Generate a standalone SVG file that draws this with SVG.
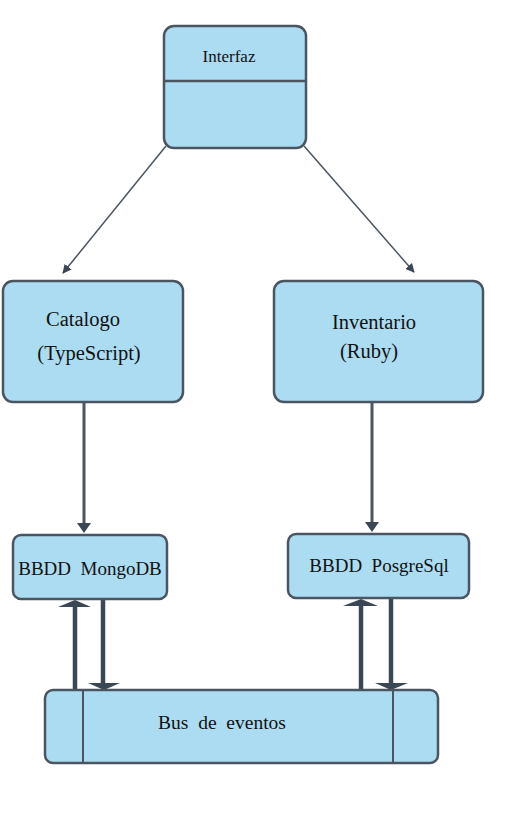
<svg xmlns="http://www.w3.org/2000/svg" width="517" height="835" viewBox="0 0 517 835">
<style>
.box{fill:#acdcf2;stroke:#4a5561;stroke-width:2.5}
.t{font-family:"Liberation Serif","DejaVu Serif",serif;fill:#111;text-anchor:middle;white-space:pre}
.thin{stroke:#4a5561;stroke-width:1.5;fill:none}
.mid{stroke:#4a5561;stroke-width:3;fill:none}
.thick{stroke:#3c4756;stroke-width:4.5;fill:none}
.head{fill:#3c4756}
</style>
<defs>
<marker id="a" viewBox="0 0 10 10" refX="9" refY="5" markerWidth="9" markerHeight="9" markerUnits="userSpaceOnUse" orient="auto">
<path d="M0,0 L10,5 L0,10 z" fill="#3c4756"/>
</marker>
</defs>
<rect width="517" height="835" fill="#fff"/>
<g id="connectors">
<line class="thin" x1="166" y1="146" x2="63" y2="273" marker-end="url(#a)"/>
<line class="thin" x1="304" y1="146" x2="414" y2="272" marker-end="url(#a)"/>
<line class="mid" x1="84" y1="402" x2="84" y2="524"/>
<path class="head" d="M77,523 L91,523 L84,533 z"/>
<line class="mid" x1="372" y1="402" x2="372" y2="523"/>
<path class="head" d="M365,522 L379,522 L372,532 z"/>
<line class="thick" x1="75" y1="689" x2="75" y2="605"/>
<path class="head" d="M58,607 L75,600 L91,607 z"/>
<line class="thick" x1="103" y1="599" x2="103" y2="684"/>
<path class="head" d="M88,683 L120,683 L104,690 z"/>
<line class="thick" x1="361" y1="689" x2="361" y2="604"/>
<path class="head" d="M343,606 L361,599 L378,606 z"/>
<line class="thick" x1="391" y1="598" x2="391" y2="684"/>
<path class="head" d="M375,683 L408,683 L391,690 z"/>
</g>
<g id="interfaz">
<rect class="box" x="164" y="26" width="142" height="122" rx="10"/>
<line x1="164" y1="81" x2="306" y2="81" stroke="#4a5561" stroke-width="2.5"/>
<text class="t" x="229" y="62" font-size="17">Interfaz</text>
</g>
<g id="catalogo">
<rect class="box" x="3" y="281" width="180" height="121" rx="10"/>
<text class="t" x="83" y="326" font-size="20.5">Catalogo</text>
<text class="t" x="89" y="360" font-size="20.5">(TypeScript)</text>
</g>
<g id="inventario">
<rect class="box" x="274" y="281" width="209" height="121" rx="10"/>
<text class="t" x="374" y="329" font-size="20.5">Inventario</text>
<text class="t" x="369" y="358" font-size="20.5">(Ruby)</text>
</g>
<g id="mongodb">
<rect class="box" x="13" y="535" width="154" height="64" rx="8"/>
<text class="t" x="90" y="575" font-size="19">BBDD  MongoDB</text>
</g>
<g id="posgresql">
<rect class="box" x="288" y="534" width="181" height="64" rx="8"/>
<text class="t" x="379" y="572" font-size="19">BBDD  PosgreSql</text>
</g>
<g id="bus">
<rect class="box" x="45" y="690" width="393" height="73" rx="8"/>
<line x1="83" y1="690" x2="83" y2="763" stroke="#4a5561" stroke-width="2"/>
<line x1="393" y1="690" x2="393" y2="763" stroke="#4a5561" stroke-width="2"/>
<text class="t" x="222" y="729" font-size="19.5">Bus  de  eventos</text>
</g>
</svg>
